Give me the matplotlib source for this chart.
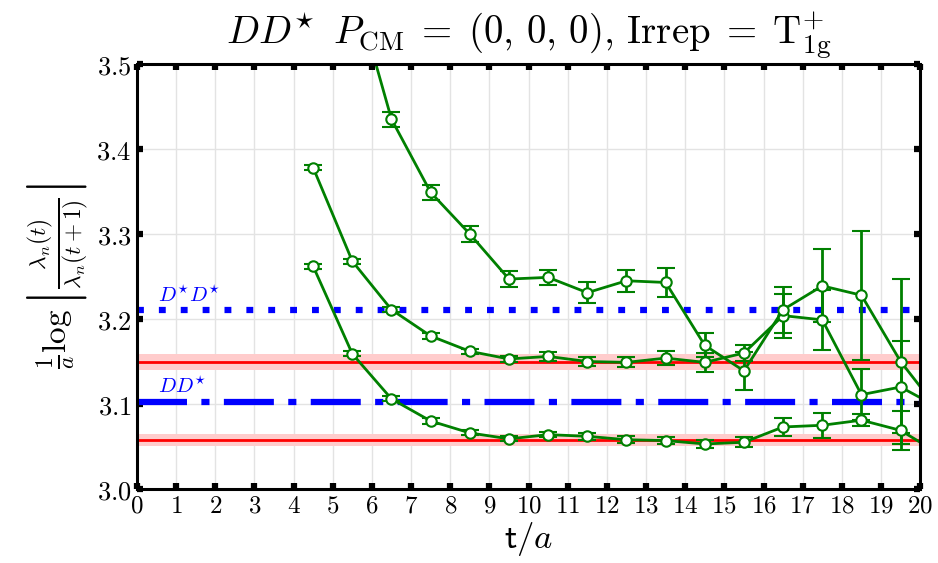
import numpy as np
import matplotlib
matplotlib.use("Agg")
import matplotlib.pyplot as plt
from matplotlib.ticker import FixedLocator, FuncFormatter

plt.rcParams['mathtext.fontset'] = 'cm'
plt.rcParams['font.family'] = ['DejaVu Serif']

# ---- data ----
t_lvl0 = [4.5, 5.5, 6.5, 7.5, 8.5, 9.5, 10.5, 11.5, 12.5, 13.5, 14.5, 15.5, 16.5, 17.5, 18.5, 19.5, 20.5]
y_lvl0 = [3.262, 3.159, 3.106, 3.080, 3.066, 3.059, 3.064, 3.062, 3.058, 3.057, 3.053, 3.055, 3.073, 3.075, 3.081, 3.069, 3.041]
e_lvl0 = [0.003, 0.003, 0.003, 0.003, 0.003, 0.003, 0.003, 0.004, 0.004, 0.004, 0.005, 0.006, 0.011, 0.015, 0.007, 0.023, 0.03]

t_lvl1 = [4.5, 5.5, 6.5, 7.5, 8.5, 9.5, 10.5, 11.5, 12.5, 13.5, 14.5, 15.5, 16.5, 17.5, 18.5, 19.5, 20.5]
y_lvl1 = [3.378, 3.268, 3.211, 3.180, 3.162, 3.153, 3.156, 3.150, 3.149, 3.154, 3.149, 3.160, 3.204, 3.199, 3.111, 3.120, 3.095]
e_lvl1 = [0.003, 0.003, 0.003, 0.003, 0.003, 0.004, 0.005, 0.005, 0.006, 0.008, 0.011, 0.009, 0.026, 0.035, 0.030, 0.054, 0.06]

t_lvl2 = [5.5, 6.5, 7.5, 8.5, 9.5, 10.5, 11.5, 12.5, 13.5, 14.5, 15.5, 16.5, 17.5, 18.5, 19.5, 20.5]
y_lvl2 = [3.598, 3.435, 3.349, 3.300, 3.247, 3.249, 3.231, 3.245, 3.243, 3.169, 3.139, 3.211, 3.239, 3.228, 3.150, 3.091]
e_lvl2 = [0.010, 0.009, 0.009, 0.009, 0.009, 0.009, 0.012, 0.013, 0.017, 0.014, 0.022, 0.027, 0.043, 0.076, 0.097, 0.1]

fit_vals = [3.058, 3.150]
fit_errs = [0.007, 0.0094]

thr_DsDs = 3.2106
thr_DDs = 3.102

xticks = list(range(0, 21))
yticks = [3.0, 3.1, 3.2, 3.3, 3.4, 3.5]

# ---- figure ----
fig = plt.figure(figsize=(9.38, 5.63), dpi=100)
ax = fig.add_axes([0.146, 0.1314, 0.835, 0.7549])

ax.set_xlim(0, 20)
ax.set_ylim(3.0, 3.5)

ax.grid(True, color='#e3e3e3', lw=1.0, zorder=0)
ax.set_axisbelow(True)

for v, e in zip(fit_vals, fit_errs):
    ax.axhspan(v - e, v + e, color='#ffcccc', lw=0, zorder=1)
    ax.axhline(v, color='red', lw=2.0, zorder=2)

ax.plot([0, 20], [thr_DsDs, thr_DsDs], color='blue', lw=4.5, dashes=(1.1, 2.4),
        dash_capstyle='butt', zorder=3)
ax.plot([0, 20], [thr_DDs, thr_DDs], color='blue', lw=4.5, dashes=(8.0, 2.3, 1.3, 2.3),
        dash_capstyle='butt', zorder=3)

ax.text(0.55, thr_DsDs + 0.009, r'$D^{\star}D^{\star}$', color='blue', fontsize=15, zorder=4)
ax.text(0.55, thr_DDs + 0.011, r'$DD^{\star}$', color='blue', fontsize=15, zorder=4)

for tt, yy, ee in [(t_lvl0, y_lvl0, e_lvl0), (t_lvl1, y_lvl1, e_lvl1), (t_lvl2, y_lvl2, e_lvl2)]:
    ax.errorbar(tt, yy, yerr=ee, color='green', lw=2.0, elinewidth=2.0, capsize=6.5,
                capthick=2.0, marker='o', markersize=7.5, markerfacecolor='white',
                markeredgecolor='green', markeredgewidth=1.5, zorder=5)

for s in ax.spines.values():
    s.set_linewidth(2.2)
    s.set_color('black')
    s.set_zorder(10)

ax.xaxis.set_major_locator(FixedLocator(xticks))
ax.yaxis.set_major_locator(FixedLocator(yticks))
ax.xaxis.set_major_formatter(FuncFormatter(lambda v, p: r'$%d$' % int(round(v))))
ax.yaxis.set_major_formatter(FuncFormatter(lambda v, p: r'$%.1f$' % v))
ax.tick_params(direction='in', length=4.5, width=4.5, top=True, right=True,
               labelsize=18, pad=4, color='black')
ax.tick_params(axis='y', labelsize=19)

ax.set_xlabel(r'$\mathsf{t}/a$', fontsize=25, labelpad=2)
ax.set_ylabel(r'$\frac{1}{a}\log\left|\frac{\lambda_n(t)}{\lambda_n(t+1)}\right|$', fontsize=24, labelpad=4)
ax.set_title(r'$DD^{\star}\ \,P_{\rm CM}\;=\;(0,\,0,\,0),\,{\rm Irrep}\;=\;{\rm T}_{\rm 1g}^{+}$',
             fontsize=28, pad=14)

fig.savefig('out.png', dpi=100)
